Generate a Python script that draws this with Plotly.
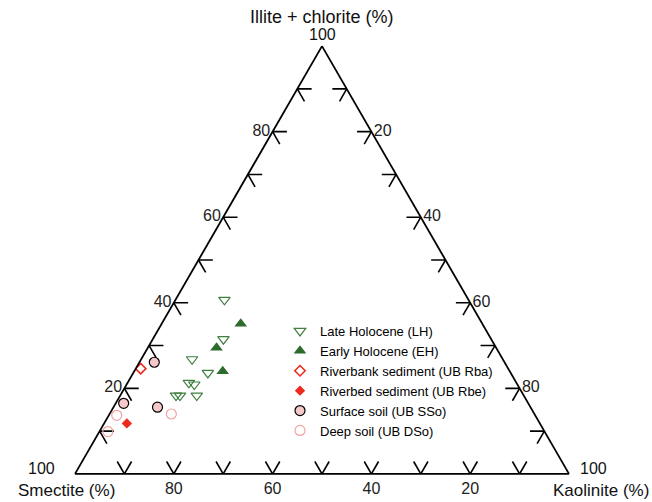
import plotly.graph_objects as go

# ---------------- data (percent: Illite+chlorite = a, Smectite = b, Kaolinite = c) ----------
lh_illite = [40.7, 31.5, 26.8, 23.6, 21.3, 20.9, 18.3, 18.3, 18.3]
lh_smectite = [49.4, 54.2, 62.9, 61.3, 66.3, 65.4, 70.4, 69.6, 66.2]
lh_kaolinite = [9.9, 14.3, 10.3, 15.1, 12.4, 13.7, 11.3, 12.1, 15.5]

eh_illite = [35.1, 29.5, 24.0]
eh_smectite = [48.9, 56.6, 58.1]
eh_kaolinite = [16.0, 13.9, 17.9]

rba_illite = [24.6]
rba_smectite = [74.4]
rba_kaolinite = [1.0]

rbe_illite = [11.8]
rbe_smectite = [83.6]
rbe_kaolinite = [4.6]

sso_illite = [26.1, 16.5, 15.6]
sso_smectite = [70.9, 81.9, 75.5]
sso_kaolinite = [3.0, 1.6, 8.9]

dso_illite = [13.7, 9.9, 14.0]
dso_smectite = [84.7, 88.4, 73.5]
dso_kaolinite = [1.6, 1.7, 12.5]

tick_positions = [10, 20, 30, 40, 50, 60, 70, 80, 90]
tick_labels = [20, 40, 60, 80]

FONT = "Liberation Sans, Arial, Helvetica, sans-serif"

fig = go.Figure()

# chevron tick marks (short stubs of grid lines at each edge)
d = 2.9
ta, tb, tc = [], [], []
for v in tick_positions:
    # left edge (c = 0): a = v, b = 100 - v
    a0, b0 = v, 100 - v
    ta += [a0, a0, None, a0, a0 - d, None]
    tb += [b0, b0 - d, None, b0, b0, None]
    tc += [0, d, None, 0, d, None]
    # right edge (b = 0): a = v, c = 100 - v
    a0, c0 = v, 100 - v
    ta += [a0, a0, None, a0, a0 - d, None]
    tb += [0, d, None, 0, d, None]
    tc += [c0, c0 - d, None, c0, c0, None]
    # bottom edge (a = 0): b = v, c = 100 - v
    b0, c0 = v, 100 - v
    ta += [0, d, None, 0, d, None]
    tb += [b0, b0, None, b0, b0 - d, None]
    tc += [c0, c0 - d, None, c0, c0, None]

fig.add_trace(go.Scatterternary(
    a=ta, b=tb, c=tc, mode="lines",
    line=dict(color="black", width=1.6),
    hoverinfo="skip", showlegend=False, connectgaps=False,
))

fig.add_trace(go.Scatterternary(
    a=lh_illite, b=lh_smectite, c=lh_kaolinite, mode="markers",
    name="Late Holocene (LH)",
    marker=dict(symbol="triangle-down-open", size=10, color="#3f7f3f",
                line=dict(width=1.2)),
))
fig.add_trace(go.Scatterternary(
    a=eh_illite, b=eh_smectite, c=eh_kaolinite, mode="markers",
    name="Early Holocene (EH)",
    marker=dict(symbol="triangle-up", size=11, color="#2d6b2d"),
))
fig.add_trace(go.Scatterternary(
    a=rba_illite, b=rba_smectite, c=rba_kaolinite, mode="markers",
    name="Riverbank sediment (UB Rba)",
    marker=dict(symbol="diamond-open", size=8, color="#ee2a1e",
                line=dict(width=1.6)),
))
fig.add_trace(go.Scatterternary(
    a=rbe_illite, b=rbe_smectite, c=rbe_kaolinite, mode="markers",
    name="Riverbed sediment (UB Rbe)",
    marker=dict(symbol="diamond", size=8, color="#ee2a1e"),
))
fig.add_trace(go.Scatterternary(
    a=sso_illite, b=sso_smectite, c=sso_kaolinite, mode="markers",
    name="Surface soil (UB SSo)",
    marker=dict(symbol="circle", size=10, color="#f7c8c8",
                line=dict(color="black", width=1.2)),
))
fig.add_trace(go.Scatterternary(
    a=dso_illite, b=dso_smectite, c=dso_kaolinite, mode="markers",
    name="Deep soil (UB DSo)",
    marker=dict(symbol="circle-open", size=10, color="#f4a3a3",
                line=dict(width=1.2)),
))

axis_common = dict(
    min=0, showgrid=False, ticks="", linecolor="black", linewidth=1.8,
    tickvals=tick_labels, ticktext=[str(t) for t in tick_labels],
    tickfont=dict(family=FONT, size=16, color="#222"),
    title=dict(text=""),
)

ML, MR, MT, MB = 75, 83, 46, 28
W, H = 652 - ML - MR, 502 - MT - MB


def px(xp, yp):
    return (xp - ML) / W, (502 - MB - yp) / H


label_specs = [
    # text, pixel x, pixel y, size, xanchor
    ("Illite + chlorite (%)", 322, 17, 18, "center"),
    ("100", 322, 34, 16, "center"),
    ("100", 57, 468, 16, "right"),
    ("Smectite (%)", 66, 491, 17, "center"),
    ("100", 578, 468, 16, "left"),
    ("Kaolinite (%)", 601, 491, 17, "center"),
]
anns = []
for text, xp, yp, size, xa in label_specs:
    x, y = px(xp, yp)
    anns.append(dict(text=text, x=x, y=y, xref="paper", yref="paper",
                     showarrow=False, xanchor=xa, yanchor="middle",
                     font=dict(family=FONT, size=size, color="#111")))

lx, ly = px(280, 316)

fig.update_layout(
    width=652, height=502,
    margin=dict(l=ML, r=MR, t=MT, b=MB),
    paper_bgcolor="white",
    font=dict(family=FONT, size=16, color="black"),
    ternary=dict(
        sum=100,
        bgcolor="white",
        domain=dict(x=[0, 1], y=[0, 1]),
        aaxis=axis_common,
        baxis=axis_common,
        caxis=axis_common,
    ),
    legend=dict(
        x=lx, y=ly, xanchor="left", yanchor="top",
        bgcolor="rgba(0,0,0,0)",
        font=dict(family=FONT, size=13, color="black"),
        itemwidth=30, tracegroupgap=0,
    ),
    annotations=anns,
)

fig.write_html("out.html")
